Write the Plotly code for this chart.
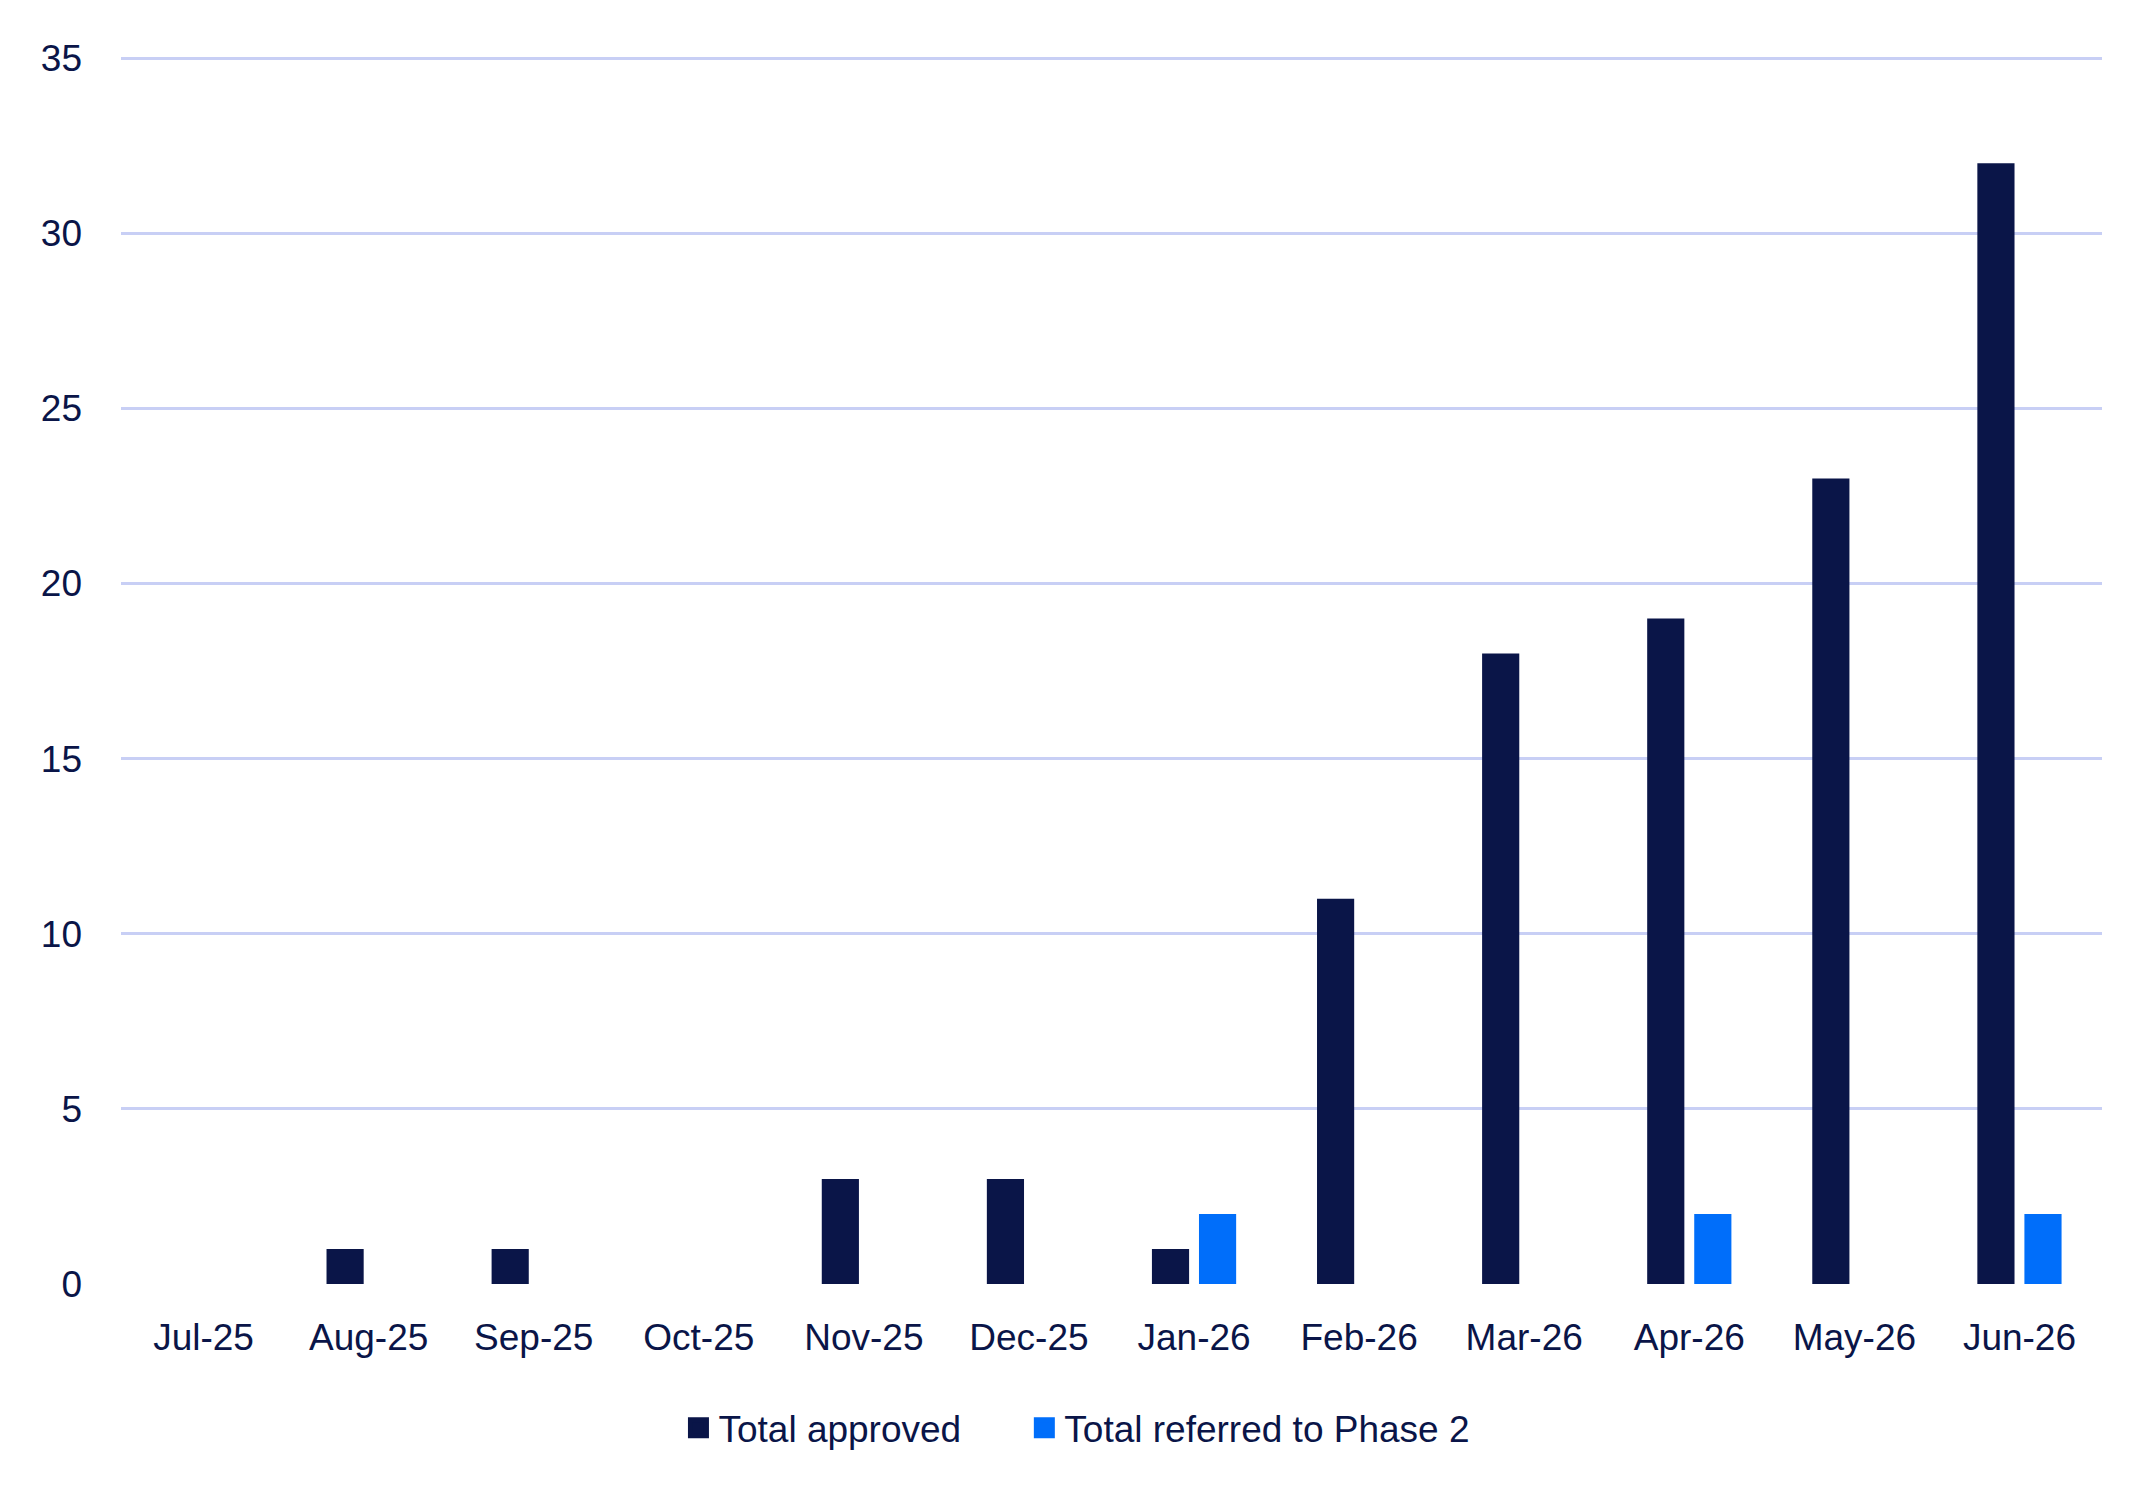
import plotly.graph_objects as go

months = ["Jul-25", "Aug-25", "Sep-25", "Oct-25", "Nov-25", "Dec-25",
          "Jan-26", "Feb-26", "Mar-26", "Apr-26", "May-26", "Jun-26"]
total_approved = [0, 1, 1, 0, 3, 3, 1, 11, 18, 19, 23, 32]
referred_phase2 = [0, 0, 0, 0, 0, 0, 2, 0, 0, 2, 0, 2]
y_ticks = [0, 5, 10, 15, 20, 25, 30, 35]

navy = "#0A1548"
blue = "#006EFA"
grid = "#C8CFF5"
font_name = "Liberation Sans"

fig = go.Figure()
fig.add_trace(go.Bar(x=months, y=total_approved, name="Total approved",
                     marker=dict(color=navy, line=dict(width=0)), showlegend=False))
fig.add_trace(go.Bar(x=months, y=referred_phase2, name="Total referred to Phase 2",
                     marker=dict(color=blue, line=dict(width=0)), showlegend=False))

# legend entries with bigger square swatches than plotly's bar icons,
# one legend each so the spacing between them can be set
for nm, col, lg in [("Total approved", navy, "legend"),
                    ("Total referred to Phase 2", blue, "legend2")]:
    fig.add_trace(go.Scatter(x=[None], y=[None], mode="markers", name=nm, legend=lg,
                             marker=dict(symbol="square", size=16, color=col,
                                         line=dict(color=col, width=5))))

leg = dict(orientation="h", xanchor="left", y=-0.1175, yanchor="middle",
           font=dict(size=37, color=navy), itemclick=False, bgcolor="rgba(0,0,0,0)")

fig.update_layout(
    width=2145, height=1485,
    margin=dict(l=113, r=51, t=49, b=209),
    paper_bgcolor="white", plot_bgcolor="white",
    font=dict(family=font_name, size=37, color=navy),
    barmode="group", bargap=0.43, bargroupgap=0.21,
    legend=dict(leg, x=0.2814),
    legend2=dict(leg, x=0.4560),
)
fig.update_xaxes(showgrid=False, zeroline=False, showline=False, ticks="",
                 range=[-0.5, 11.5], ticklabelstandoff=28)
fig.update_yaxes(range=[0, 35.03], tickvals=y_ticks, showgrid=True, gridcolor=grid,
                 gridwidth=3, zeroline=False, showline=False, ticks="",
                 ticklabelstandoff=38)

fig.write_html("out.html")
